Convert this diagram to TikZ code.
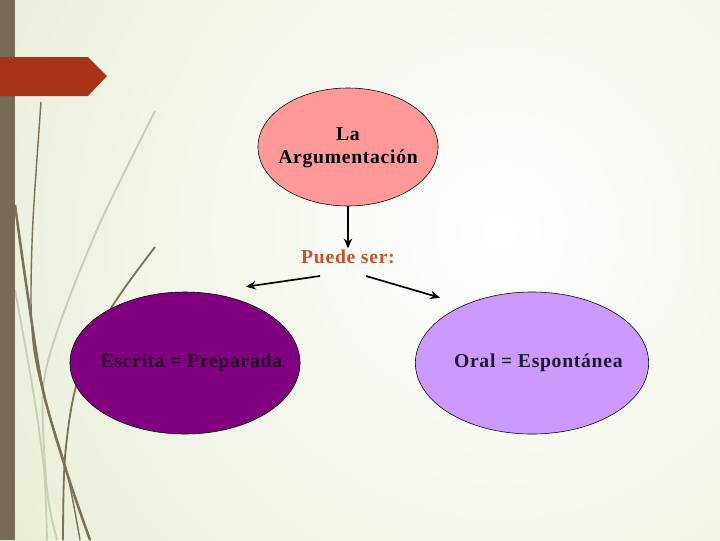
\documentclass[tikz,border=0pt]{standalone}
\usepackage{fontspec}
\setmainfont{Liberation Serif}[LetterSpace=3.5]
\usetikzlibrary{arrows.meta,shapes.geometric}
\definecolor{BarGray}{HTML}{756B57}
\definecolor{TabRed}{HTML}{A83316}
\definecolor{BgGreen}{HTML}{DBE3BF}
\definecolor{GrassDark}{HTML}{7A7159}
\definecolor{GrassLight}{HTML}{C9CEB6}
\definecolor{PinkFill}{HTML}{FF9999}
\definecolor{PurpleFill}{HTML}{800080}
\definecolor{LilacFill}{HTML}{CC99FF}
\definecolor{PuedeOrange}{HTML}{C4552B}
\definecolor{EscritaText}{HTML}{2A0A2A}
\definecolor{OralText}{HTML}{1E1A2C}
\newcommand{\ovaltext}[2][0pt]{\makebox[0pt]{\hspace{#1}#2}}

\begin{document}
\begin{tikzpicture}[x=0.025cm,y=-0.025cm,
	oval/.style={ellipse,draw=black,thin,inner sep=0pt,
		font=\bfseries\fontsize{14}{17}\selectfont},
	flecha/.style={-{Stealth[length=7pt,width=6pt]},line width=1.2pt}]
	\useasboundingbox (0,0) rectangle (720,540);
	% background
	\begin{scope}
		\clip (0,0) rectangle (720,540);
		\shade[inner color=white,outer color=BgGreen] (500,230) circle (950);
	\end{scope}
	% grass
	\draw[GrassLight,line width=1.3pt] plot[smooth] coordinates {(155,111) (100,223) (60,323) (43,390) (47,490) (57,540)};
	\draw[GrassLight,line width=1.3pt] plot[smooth] coordinates {(15,290) (33,390) (44,470) (47,540)};
	\draw[GrassDark,line width=1pt] plot[smooth] coordinates {(41,102) (33,220) (31,300) (34,350) (45,400) (67,473) (80,540)};
	\draw[GrassDark,line width=1.8pt] plot[smooth] coordinates {(15,205) (27,290) (43,390) (67,473) (90,540)};
	\draw[GrassDark,line width=1.3pt] plot[smooth] coordinates {(155,247) (110,310) (77,383) (65,457) (63,540)};
	% side bar and tab
	\fill[BarGray] (0,0) rectangle (15,540);
	\fill[TabRed] (0,57) -- (88,57) -- (107,76) -- (88,96) -- (0,96) -- cycle;
	% nodes
	\node[oval,fill=PinkFill,minimum width=4.5cm,minimum height=2.95cm] (arg) at (348,147)
		{\ovaltext{\begin{tabular}{@{}c@{}}La\\[-1pt]Argumentación\end{tabular}}};
	\node[text=PuedeOrange,font=\bfseries\fontsize{14}{17}\selectfont,inner sep=1pt] (puede) at (348,257) {Puede ser:};
	\node[oval,fill=PurpleFill,text=EscritaText,minimum width=5.75cm,minimum height=3.55cm] (escrita) at (185,363)
		{\ovaltext[9pt]{Escrita = Preparada}};
	\node[oval,fill=LilacFill,text=OralText,minimum width=5.83cm,minimum height=3.55cm] (oral) at (532,363)
		{\ovaltext[9pt]{\raisebox{3.6pt}{Oral = Espontánea}}};
	% arrows
	\coordinate (izq0) at ([shift={(-28,19)}]puede.center);
	\coordinate (izq) at ([shift={(61,-5)}]escrita.north);
	\coordinate (der0) at ([shift={(18,19)}]puede.center);
	\coordinate (der) at ([shift={(-92,6)}]oral.north);
	\draw[flecha] (arg) -- (puede);
	\draw[flecha] (izq0) -- (izq);
	\draw[flecha] (der0) -- (der);
\end{tikzpicture}
\end{document}
